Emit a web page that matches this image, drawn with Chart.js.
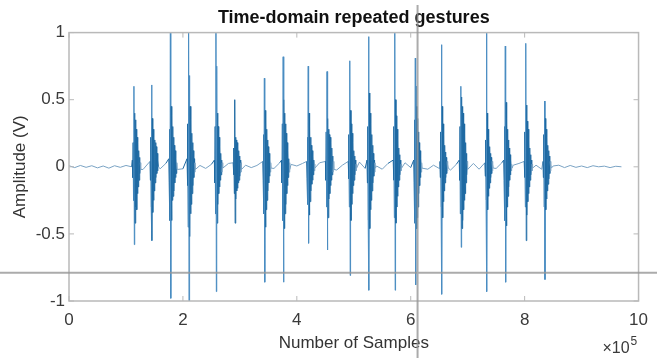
<!DOCTYPE html>
<html>
<head>
<meta charset="utf-8">
<script src="https://cdn.jsdelivr.net/npm/chart.js@4.4.0/dist/chart.umd.min.js"></script>
<style>
  html, body { margin: 0; padding: 0; background: #ffffff; }
  #wrap { width: 657px; height: 358px; }
</style>
</head>
<body>
<div id="wrap"><canvas id="gestureChart" width="657" height="358"></canvas></div>
<script>
// centres of each gesture burst (samples)
const burstCenters = [114000, 145000, 178000, 210000, 258000, 291000, 343000, 376000, 420000, 453000,
                      493000, 526000, 572000, 608000, 654000, 688000, 733000, 766000, 802000, 835000];

// amplitude samples of each burst, peak at index 4/5 (V)
const burstSamples = [
    [0.05, -0.08, 0.18, -0.25, 0.60, -0.58, 0.40, -0.42, 0.35, -0.30, 0.28, -0.32, 0.22, -0.20, 0.18, -0.15, 0.12, -0.10, 0.07, -0.05, 0.03, -0.02],
    [0.04, -0.10, 0.22, -0.30, 0.61, -0.55, 0.36, -0.34, 0.28, -0.25, 0.22, -0.18, 0.20, -0.12, 0.18, -0.08, 0.15, -0.05, 0.10, -0.03, 0.05, 0.00],
    [0.06, -0.12, 0.28, -0.40, 1.05, -0.98, 0.45, -0.40, 0.38, -0.25, 0.30, -0.22, 0.22, -0.18, 0.16, -0.12, 0.12, -0.08, 0.06, -0.05, 0.03, -0.02],
    [0.06, -0.14, 0.32, -0.45, 1.05, -1.05, 0.68, -0.52, 0.45, -0.35, 0.35, -0.28, 0.25, -0.20, 0.18, -0.14, 0.12, -0.08, 0.06, -0.04, 0.03, -0.02],
    [0.05, -0.12, 0.30, -0.35, 1.05, -0.93, 0.75, -0.42, 0.40, -0.28, 0.30, -0.20, 0.22, -0.15, 0.15, -0.10, 0.10, -0.06, 0.05, -0.04, 0.03, -0.01],
    [0.03, -0.06, 0.14, -0.20, 0.50, -0.42, 0.22, -0.24, 0.20, -0.18, 0.18, -0.16, 0.15, -0.12, 0.12, -0.10, 0.08, -0.07, 0.05, -0.04, 0.03, -0.02],
    [0.04, -0.10, 0.24, -0.35, 0.66, -0.86, 0.42, -0.45, 0.35, -0.32, 0.28, -0.25, 0.20, -0.18, 0.15, -0.12, 0.10, -0.07, 0.05, -0.04, 0.03, -0.01],
    [0.05, -0.12, 0.32, -0.40, 0.82, -0.86, 0.50, -0.46, 0.40, -0.35, 0.32, -0.28, 0.25, -0.20, 0.18, -0.14, 0.12, -0.08, 0.06, -0.04, 0.03, -0.02],
    [0.04, -0.09, 0.22, -0.28, 0.75, -0.57, 0.40, -0.36, 0.30, -0.26, 0.22, -0.18, 0.16, -0.13, 0.12, -0.10, 0.08, -0.06, 0.05, -0.03, 0.02, -0.01],
    [0.04, -0.10, 0.26, -0.30, 0.71, -0.62, 0.36, -0.38, 0.28, -0.24, 0.24, -0.20, 0.22, -0.14, 0.18, -0.10, 0.14, -0.06, 0.08, -0.04, 0.04, -0.02],
    [0.04, -0.09, 0.24, -0.30, 0.79, -0.81, 0.42, -0.40, 0.32, -0.28, 0.25, -0.20, 0.18, -0.14, 0.12, -0.10, 0.08, -0.06, 0.05, -0.03, 0.02, -0.01],
    [0.05, -0.12, 0.30, -0.40, 0.97, -0.92, 0.55, -0.46, 0.40, -0.32, 0.32, -0.25, 0.24, -0.18, 0.16, -0.12, 0.10, -0.07, 0.05, -0.04, 0.03, -0.01],
    [0.05, -0.10, 0.30, -0.38, 1.05, -0.92, 0.50, -0.42, 0.38, -0.30, 0.28, -0.22, 0.20, -0.15, 0.14, -0.10, 0.09, -0.06, 0.05, -0.03, 0.02, -0.01],
    [0.05, -0.12, 0.35, -0.42, 0.81, -0.88, 0.60, -0.46, 0.45, -0.38, 0.36, -0.30, 0.26, -0.20, 0.18, -0.14, 0.12, -0.08, 0.06, -0.04, 0.03, -0.01],
    [0.04, -0.08, 0.26, -0.30, 0.91, -0.95, 0.45, -0.38, 0.32, -0.26, 0.24, -0.18, 0.16, -0.12, 0.11, -0.08, 0.07, -0.05, 0.04, -0.03, 0.02, -0.01],
    [0.05, -0.10, 0.30, -0.35, 0.60, -0.60, 0.52, -0.46, 0.45, -0.40, 0.40, -0.32, 0.32, -0.25, 0.25, -0.20, 0.18, -0.12, 0.10, -0.06, 0.04, -0.02],
    [0.03, -0.07, 0.20, -0.25, 1.05, -0.93, 0.40, -0.32, 0.28, -0.22, 0.22, -0.16, 0.15, -0.12, 0.10, -0.08, 0.07, -0.05, 0.04, -0.03, 0.02, -0.01],
    [0.05, -0.10, 0.30, -0.40, 0.90, -0.86, 0.48, -0.44, 0.36, -0.30, 0.28, -0.22, 0.20, -0.15, 0.14, -0.10, 0.09, -0.06, 0.05, -0.03, 0.02, -0.01],
    [0.04, -0.08, 0.26, -0.30, 0.92, -0.55, 0.46, -0.36, 0.34, -0.26, 0.28, -0.20, 0.20, -0.15, 0.14, -0.10, 0.09, -0.06, 0.05, -0.03, 0.02, -0.01],
    [0.04, -0.08, 0.24, -0.30, 0.49, -0.84, 0.36, -0.32, 0.28, -0.24, 0.22, -0.18, 0.16, -0.13, 0.12, -0.09, 0.08, -0.05, 0.04, -0.03, 0.02, -0.01]
];
const burstStep = 700;     // samples between burst points
const burstPeakIdx = 4;

// resting signal, one value every 10000 samples from 0 (V)
const baseStep = 10000;
const baseline = [
    0.008, -0.006, 0.01, -0.004, 0.008, -0.008, 0.006, -0.01, 0.008, -0.004, 0.01, 0.0, 0.02, -0.02, 0.03, 0.01, -0.015, 0.025, -0.01, 0.03,
    -0.015, 0.012, -0.006, 0.01, -0.012, 0.018, 0.012, -0.018, 0.025, 0.035, -0.02, 0.012, -0.006, 0.01, 0.004, 0.02, -0.012, 0.03, -0.018, 0.018,
    0.006, 0.025, -0.018, 0.012, 0.03, -0.012, 0.018, -0.024, 0.012, 0.025, -0.018, 0.035, -0.012, 0.018, 0.006, -0.018, 0.025, 0.012, -0.012, 0.03,
    -0.006, 0.018, 0.025, -0.018, 0.012, -0.012, 0.035, -0.024, 0.018, 0.012, -0.006, 0.025, -0.018, 0.012, 0.018, -0.012, 0.03, -0.018, 0.012, 0.025,
    -0.012, 0.018, 0.012, -0.018, 0.025, 0.006, 0.012, -0.006, 0.01, -0.004, 0.006, -0.006, 0.008, 0.0, 0.005, -0.006, 0.004, 0.0
];

const xTickLabels = ['0', '2', '4', '6', '8', '10'];
const yTickLabels = { '1': '1', '0.5': '0.5', '0': '0', '-0.5': '-0.5', '-1': '-1' };

// cursor crosshair left on the figure
const cursorX = 612000;
const cursorY = -0.79;

function buildSignal() {
    const pts = [];
    baseline.forEach((v, i) => {
        const x = i * baseStep;
        const inBurst = burstCenters.some(c => x > c - 4000 && x < c + 13000);
        if (!inBurst) pts.push({ x: x, y: v });
    });
    burstCenters.forEach((c, b) => {
        burstSamples[b].forEach((v, i) => {
            pts.push({ x: c + (i - burstPeakIdx) * burstStep, y: v });
        });
    });
    pts.sort((a, b) => a.x - b.x);
    return pts;
}

const frameColor = '#b9b9b9';

const matlabFrame = {
    id: 'matlabFrame',
    afterDatasetsDraw(chart) {
        const { ctx, chartArea: a, scales } = chart;
        ctx.save();
        ctx.strokeStyle = frameColor;
        ctx.lineWidth = 1.5;
        ctx.strokeRect(a.left, a.top, a.right - a.left, a.bottom - a.top);
        ctx.lineWidth = 1;
        scales.x.ticks.forEach(t => {
            const px = scales.x.getPixelForValue(t.value);
            ctx.beginPath();
            ctx.moveTo(px, a.bottom); ctx.lineTo(px, a.bottom - 5);
            ctx.moveTo(px, a.top); ctx.lineTo(px, a.top + 5);
            ctx.stroke();
        });
        scales.y.ticks.forEach(t => {
            const py = scales.y.getPixelForValue(t.value);
            ctx.beginPath();
            ctx.moveTo(a.left, py); ctx.lineTo(a.left + 5, py);
            ctx.moveTo(a.right, py); ctx.lineTo(a.right - 5, py);
            ctx.stroke();
        });
        // exponent label
        ctx.fillStyle = '#3a3a3a';
        ctx.textBaseline = 'alphabetic';
        ctx.textAlign = 'right';
        ctx.font = '16px "Liberation Sans", Arial, sans-serif';
        ctx.fillText('\u00d710', a.right - 9, a.bottom + 52);
        ctx.font = '12px "Liberation Sans", Arial, sans-serif';
        ctx.textAlign = 'left';
        ctx.fillText('5', a.right - 8, a.bottom + 44);
        ctx.restore();
    }
};

const cursorLines = {
    id: 'cursorLines',
    afterDraw(chart) {
        const { ctx, scales, width, height } = chart;
        const px = scales.x.getPixelForValue(cursorX);
        const py = scales.y.getPixelForValue(cursorY);
        ctx.save();
        ctx.strokeStyle = 'rgba(150,150,150,0.8)';
        ctx.lineWidth = 2;
        ctx.beginPath();
        ctx.moveTo(0, py); ctx.lineTo(width, py);
        ctx.moveTo(px, 5); ctx.lineTo(px, height);
        ctx.stroke();
        ctx.restore();
    }
};

const tickFont = { family: '"Liberation Sans", Arial, sans-serif', size: 17 };
const quiet = 0.045;
const spike = 0.55;

function segColor(c) {
    const a = Math.abs(c.p0.parsed.y), b = Math.abs(c.p1.parsed.y);
    if (a < quiet && b < quiet) return '#7aa3c4';   // resting wiggle is paler
    if (a > spike || b > spike) return '#4a8dc2';   // tall thin spikes look lighter
    return undefined;
}

new Chart(document.getElementById('gestureChart').getContext('2d'), {
    type: 'line',
    data: {
        datasets: [{
            label: 'Amplitude',
            data: buildSignal(),
            borderColor: '#1f6aa3',
            borderWidth: 1,
            pointRadius: 0,
            tension: 0,
            fill: false,
            segment: { borderColor: segColor }
        }]
    },
    options: {
        responsive: false,
        animation: false,
        layout: { padding: { left: 0, right: 16, top: 0, bottom: 0 } },
        plugins: {
            legend: { display: false },
            tooltip: { enabled: false },
            title: {
                display: true,
                text: 'Time-domain repeated gestures',
                fullSize: false,
                color: '#111111',
                font: { family: '"Liberation Sans", Arial, sans-serif', size: 18, weight: 'bold' },
                padding: { top: 7, bottom: 4 }
            }
        },
        scales: {
            x: {
                type: 'linear',
                min: 0,
                max: 1000000,
                grid: { display: false, drawTicks: false },
                border: { display: false },
                ticks: {
                    stepSize: 200000,
                    padding: 9,
                    color: '#3a3a3a',
                    font: tickFont,
                    maxRotation: 0,
                    callback: (v) => xTickLabels[Math.round(v / 200000)]
                },
                title: {
                    display: true,
                    text: 'Number of Samples',
                    color: '#333333',
                    font: tickFont,
                    padding: { top: 0, bottom: 4 }
                },
                afterFit: (s) => { s.height = 57; }
            },
            y: {
                min: -1,
                max: 1,
                grid: { display: false, drawTicks: false },
                border: { display: false },
                ticks: {
                    stepSize: 0.5,
                    padding: 4,
                    color: '#3a3a3a',
                    font: tickFont,
                    callback: (v) => yTickLabels[String(v)]
                },
                title: {
                    display: true,
                    text: 'Amplitude (V)',
                    color: '#333333',
                    font: tickFont,
                    padding: { top: 10, bottom: 0 }
                },
                afterFit: (s) => { s.width = 69; }
            }
        }
    },
    plugins: [matlabFrame, cursorLines]
});
</script>
</body>
</html>
